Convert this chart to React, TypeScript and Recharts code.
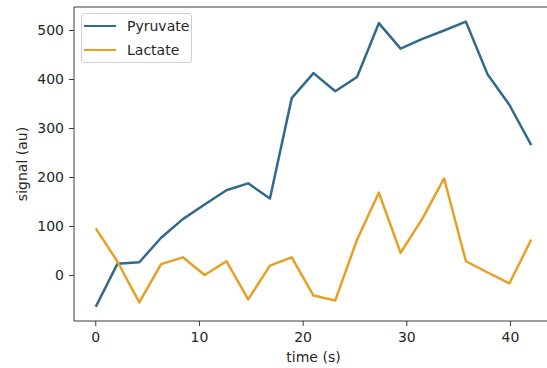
import React from "react";
import { LineChart, Line, XAxis, YAxis, ReferenceLine, Label } from "recharts";

const times = [0, 2.1, 4.2, 6.3, 8.4, 10.5, 12.6, 14.7, 16.8, 18.9, 21, 23.1, 25.2, 27.3, 29.4, 31.5, 33.6, 35.7, 37.8, 39.9, 42];
const pyruvate = [-64, 24, 27, 77, 115, 145, 174, 188, 157, 362, 413, 376, 405, 515, 463, 483, 500, 518, 410, 348, 266];
const lactate = [96, 28, -55, 23, 37, 1, 29, -49, 20, 37, -41, -51, 73, 169, 46, 116, 198, 29, 6, -16, 73];
const xTicks = [0, 10, 20, 30, 40];
const yTicks = [0, 100, 200, 300, 400, 500];
const seriesNames = ["Pyruvate", "Lactate"];
const seriesColors = ["#316a8c", "#e6a023"];

const xDomain = [-2.1, 44.1];
const yDomain = [-93, 548];

const data = times.map((t, i) => ({ t, Pyruvate: pyruvate[i], Lactate: lactate[i] }));

const FONT = "'DejaVu Sans', sans-serif";
const TEXT = "#262626";
const SPINE = "#3a3a3a";

export default function App() {
  return (
    <div style={{ position: "absolute", left: 0, top: 0, width: 547, height: 368, overflow: "hidden", background: "#fff" }}>
      <LineChart width={570} height={368} data={data} margin={{ top: 7, right: 17, bottom: 0, left: 0 }}>
        <XAxis
          dataKey="t"
          type="number"
          domain={xDomain}
          ticks={xTicks}
          allowDataOverflow
          height={47}
          tickSize={5}
          tickMargin={6}
          stroke={SPINE}
          tick={{ fill: TEXT, fontSize: 14, fontFamily: FONT }}
        >
          <Label
            content={({ viewBox }: any) => (
              <text x={viewBox.x + viewBox.width / 2} y={362} textAnchor="middle" fill={TEXT} fontSize={14} fontFamily={FONT}>
                time (s)
              </text>
            )}
          />
        </XAxis>
        <YAxis
          type="number"
          domain={yDomain}
          ticks={yTicks}
          allowDataOverflow
          width={74}
          tickSize={5}
          tickMargin={5}
          stroke={SPINE}
          tick={{ fill: TEXT, fontSize: 14, fontFamily: FONT }}
        >
          <Label
            content={({ viewBox }: any) => {
              const cx = 22;
              const cy = viewBox.y + viewBox.height / 2;
              return (
                <text x={cx} y={cy} transform={`rotate(-90, ${cx}, ${cy})`} textAnchor="middle" dominantBaseline="central" fill={TEXT} fontSize={14} fontFamily={FONT}>
                  signal (au)
                </text>
              );
            }}
          />
        </YAxis>
        <ReferenceLine y={yDomain[1]} stroke={SPINE} strokeWidth={1} ifOverflow="visible" />
        <ReferenceLine x={xDomain[1]} stroke={SPINE} strokeWidth={1} ifOverflow="visible" />
        <Line dataKey="Pyruvate" stroke={seriesColors[0]} strokeWidth={2.5} dot={false} isAnimationActive={false} strokeLinejoin="round" />
        <Line dataKey="Lactate" stroke={seriesColors[1]} strokeWidth={2.5} dot={false} isAnimationActive={false} strokeLinejoin="round" />
      </LineChart>
      <div
        style={{
          position: "absolute",
          left: 81,
          top: 13,
          width: 109,
          height: 48,
          border: "1px solid #d0d0d0",
          borderRadius: 3,
          background: "rgba(255,255,255,0.85)",
          fontFamily: FONT,
          fontSize: 14,
          color: TEXT,
        }}
      >
        {seriesNames.map((name, i) => (
          <div key={name} style={{ position: "absolute", left: 0, top: 2 + i * 24, height: 20, display: "flex", alignItems: "center" }}>
            <div style={{ marginLeft: 2, width: 32, height: 2.5, background: seriesColors[i] }} />
            <span style={{ marginLeft: 11, lineHeight: "20px" }}>{name}</span>
          </div>
        ))}
      </div>
    </div>
  );
}
